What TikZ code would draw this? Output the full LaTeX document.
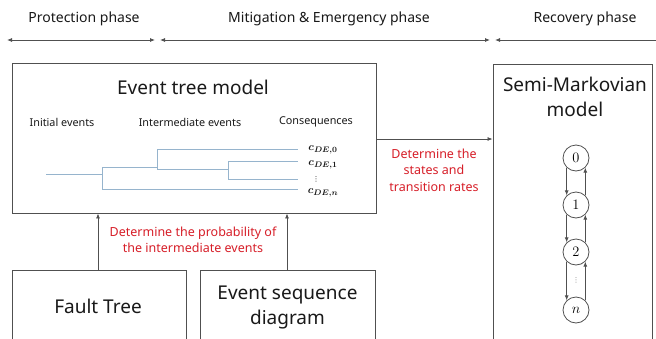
\documentclass[tikz,border=0pt]{standalone}
\usepackage{amsmath}
\usepackage{bm}
\usepackage{fontspec}
\setmainfont{Noto Sans}
\newfontfamily\dejavu{DejaVu Sans}
\usetikzlibrary{arrows.meta}
\definecolor{boxgray}{RGB}{80,80,80}
\definecolor{treeblue}{RGB}{150,180,205}
\definecolor{redtxt}{RGB}{215,30,40}
\definecolor{txtgray}{RGB}{25,25,25}
\tikzset{
  box/.style={draw=boxgray, line width=0.9pt, inner sep=0pt},
  conn/.style={draw=boxgray, line width=0.8pt, -{Latex[length=5pt,width=4pt]}},
  phasearr/.style={draw=boxgray, line width=0.8pt, {Latex[length=5pt,width=4pt]}-{Latex[length=5pt,width=4pt]}},
  treeline/.style={draw=treeblue, line width=1pt},
  state/.style={circle, draw=boxgray, line width=0.8pt, minimum size=26pt, inner sep=0pt, font=\fontsize{14}{14}\selectfont},
  lbl/.style={text=txtgray, inner sep=0pt},
  redlbl/.style={text=redtxt, inner sep=0pt, align=center, font=\fontsize{12.5}{16.5}\selectfont},
  dots/.style={inner sep=0pt, font=\dejavu\fontsize{7}{7}\selectfont},
}
\begin{document}
\begin{tikzpicture}[x=1pt,y=-1pt]
\useasboundingbox (0,0) rectangle (656,338);
\clip (0,0) rectangle (656,338);
\fill[white] (0,0) rectangle (656,338);

% phases
\node[lbl, font=\fontsize{14}{16}\selectfont] (p1) at (84,19) {Protection phase};
\node[lbl, font=\fontsize{14}{16}\selectfont] (p2) at (329,19) {Mitigation \& Emergency phase};
\node[lbl, font=\fontsize{14}{16}\selectfont] (p3) at (585,19) {Recovery phase};
\coordinate (a0) at (7,40);
\coordinate (a1) at (155,40);
\coordinate (a2) at (160,40);
\coordinate (a3) at (490,40);
\coordinate (a4) at (495,40);
\coordinate (a5) at (662,40);
\draw[phasearr] (a0) -- (a1);
\draw[phasearr] (a2) -- (a3);
\draw[phasearr] (a4) -- (a5);

% event tree box
\node[box, minimum width=364pt, minimum height=150pt] (et) at (194,138) {};
\node[lbl, font=\fontsize{19}{22}\selectfont] (ettitle) at (193,87) {Event tree model};
\node[lbl, font=\fontsize{10.8}{12}\selectfont] (ie) at (62,122) {Initial events};
\node[lbl, font=\fontsize{10.8}{12}\selectfont] (me) at (190,122) {Intermediate events};
\node[lbl, font=\fontsize{10.8}{12}\selectfont] (cq) at (316,122) {Consequences};

% tree
\draw[treeline] (46,174) -- (102,174);
\draw[treeline] (102,167) -- (102,189);
\draw[treeline] (102,167) -- (157,167);
\draw[treeline] (102,189) -- (298,189);
\draw[treeline] (157,149) -- (157,169);
\draw[treeline] (157,149) -- (298,149);
\draw[treeline] (157,169) -- (228,169);
\draw[treeline] (228,161) -- (228,179);
\draw[treeline] (228,161) -- (298,161);
\draw[treeline] (228,179) -- (298,179);
\node[lbl, font=\fontsize{11}{11}\selectfont] (c0) at (323,150) {$\bm{c_{DE,0}}$};
\node[lbl, font=\fontsize{11}{11}\selectfont] (c1) at (323,165) {$\bm{c_{DE,1}}$};
\node[dots, text=txtgray] (cd) at (316,179.5) {⋮};
\node[lbl, font=\fontsize{11}{11}\selectfont] (cn) at (323,193) {$\bm{c_{DE,n}}$};

% semi-markov box
\node[box, minimum width=159pt, minimum height=290pt] (sm) at (572.5,209) {};
\node[lbl, align=center, font=\fontsize{19}{25}\selectfont] (smtitle) at (575,97) {Semi-Markovian\\model};
\node[state] (s0) at (576,158) {$0$};
\node[state] (s1) at (576,205) {$1$};
\node[state] (s2) at (576,252) {$2$};
\node[dots, text=gray] (sd) at (576,280) {⋮};
\node[state] (sn) at (576,310) {$n$};
\draw[conn] (s0.226) -- (s1.134);
\draw[conn] (s1.226) -- (s2.134);
\draw[conn] (s2.226) -- (sn.134);
\draw[conn] (s1.46) -- (s0.314);
\draw[conn] (s2.46) -- (s1.314);
\draw[conn] (sn.46) -- (s2.314);

% connector et -> sm
\draw[conn] (et.east |- 0,139) -- (sm.west |- 0,139);
\node[redlbl] (r2) at (434,170) {Determine the\\states and\\transition rates};

% bottom boxes
\node[box, minimum width=174pt, minimum height=80pt] (ft) at (99,310) {};
\node[lbl, font=\fontsize{19}{22}\selectfont] (fttxt) at (98,306) {Fault Tree};
\node[box, minimum width=175pt, minimum height=80pt] (esd) at (287.5,310) {};
\node[lbl, align=center, font=\fontsize{19}{25}\selectfont] (esdtxt) at (287.5,307) {Event sequence\\diagram};
\draw[conn] (ft.north -| 98,0) -- (et.south -| 98,0);
\draw[conn] (esd.north -| 287,0) -- (et.south -| 287,0);
\node[redlbl] (r1) at (193,240) {Determine the probability of\\the intermediate events};
\end{tikzpicture}
\end{document}
